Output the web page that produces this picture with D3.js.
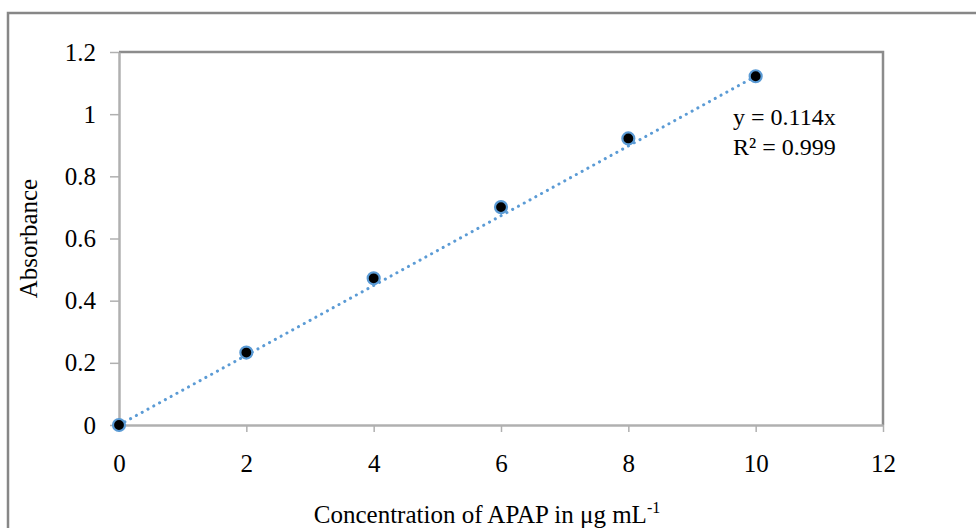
<!DOCTYPE html>
<html>
<head>
<meta charset="utf-8">
<script src="https://cdn.jsdelivr.net/npm/d3@7"></script>
<style>
  body { margin: 0; background: #fff; }
  text { font-family: "Liberation Serif", "Times New Roman", serif; fill: #000; }
</style>
</head>
<body>
<div id="chart"></div>
<script>
// calibration data
var concentration = [0, 2, 4, 6, 8, 10];
var absorbance = [0, 0.233, 0.472, 0.701, 0.922, 1.122];
var xTicks = [0, 2, 4, 6, 8, 10, 12];
var yTicks = [0, 0.2, 0.4, 0.6, 0.8, 1, 1.2];
var trendX = [0, 10];
var trendY = [0, 1.122];
var equationLines = ["y = 0.114x", "R\u00B2 = 0.999"];

var W = 976, H = 528;
var margin = {top: 52, right: 93, bottom: 103, left: 119};
var width = W - margin.left - margin.right;
var height = H - margin.top - margin.bottom;

var svg = d3.select("#chart").append("svg")
    .attr("width", W)
    .attr("height", H);

// outer chart border
svg.append("rect")
    .attr("x", 8).attr("y", 13)
    .attr("width", W + 10).attr("height", H + 10)
    .attr("fill", "none")
    .attr("stroke", "#878787")
    .attr("stroke-width", 2.5);

var g = svg.append("g")
    .attr("transform", "translate(" + margin.left + "," + margin.top + ")");

var x = d3.scaleLinear().domain([0, 12]).range([0, width]);
var y = d3.scaleLinear().domain([0, 1.2]).range([height, 0]);

// plot area top / right border
g.append("path")
    .attr("d", "M0,0H" + width + "V" + height)
    .attr("fill", "none")
    .attr("stroke", "#8c8c8c")
    .attr("stroke-width", 2.5);

var xAxis = g.append("g")
    .attr("transform", "translate(0," + height + ")")
    .call(d3.axisBottom(x).tickValues(xTicks).tickSize(7).tickSizeOuter(0).tickPadding(22));

var yAxis = g.append("g")
    .call(d3.axisLeft(y).tickValues(yTicks).tickSize(9).tickSizeOuter(0).tickPadding(14)
        .tickFormat(function (d) { return String(d); }));

[xAxis, yAxis].forEach(function (a) {
    a.attr("font-family", "Liberation Serif, serif").attr("font-size", 25);
    a.select(".domain").attr("stroke", "#b0b0b0").attr("stroke-width", 2.5);
    a.selectAll(".tick line").attr("stroke", "#b0b0b0").attr("stroke-width", 1.5);
    a.selectAll(".tick text").attr("fill", "#000");
});

// trend line
var line = d3.line()
    .x(function (d) { return x(d[0]); })
    .y(function (d) { return y(d[1]); });

g.append("path")
    .datum(d3.zip(trendX, trendY))
    .attr("d", line)
    .attr("fill", "none")
    .attr("stroke", "#5b9bd5")
    .attr("stroke-width", 3)
    .attr("stroke-linecap", "round")
    .attr("stroke-dasharray", "0.1,6.5");

// data points
g.selectAll(".pt")
    .data(d3.zip(concentration, absorbance))
    .enter().append("circle")
    .attr("class", "pt")
    .attr("cx", function (d) { return x(d[0]); })
    .attr("cy", function (d) { return y(d[1]); })
    .attr("r", 6)
    .attr("fill", "#000")
    .attr("stroke", "#5b9bd5")
    .attr("stroke-width", 2.2);

// equation
var eqX = 733 - margin.left;
g.append("text")
    .attr("y", 73)
    .attr("font-size", 24)
    .selectAll("tspan")
    .data(equationLines)
    .enter().append("tspan")
    .attr("x", eqX)
    .attr("dy", function (d, i) { return i === 0 ? 0 : 30; })
    .text(function (d) { return d; });

// axis titles
svg.append("text")
    .attr("transform", "translate(37," + (margin.top + height / 2) + ") rotate(-90)")
    .style("text-anchor", "middle")
    .attr("font-size", 25)
    .text("Absorbance");

var xt = svg.append("text")
    .attr("x", margin.left + width / 2 - 14)
    .attr("y", 523)
    .style("text-anchor", "middle")
    .attr("font-size", 25);
xt.append("tspan").text("Concentration of APAP in \u03BCg mL");
xt.append("tspan").attr("dy", -10).attr("font-size", 16).text("-1");
</script>
</body>
</html>
